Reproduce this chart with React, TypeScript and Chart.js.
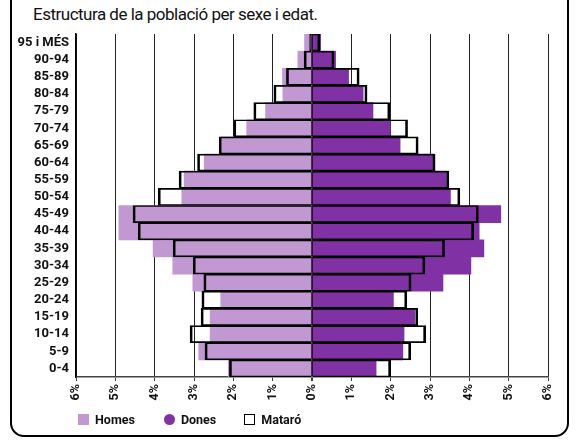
import React, { useEffect, useRef } from "react";
import { Chart, registerables } from "chart.js";

Chart.register(...registerables);

const ageGroups = [
  "0-4", "5-9", "10-14", "15-19", "20-24", "25-29", "30-34", "35-39", "40-44", "45-49",
  "50-54", "55-59", "60-64", "65-69", "70-74", "75-79", "80-84", "85-89", "90-94", "95 i MÉS",
];
// percentages (men shown on the left)
const homes = [2.13, 2.88, 2.59, 2.59, 2.32, 3.03, 3.54, 4.04, 4.91, 4.91, 3.31, 3.25, 2.74, 2.3, 1.66, 1.18, 0.74, 0.75, 0.36, 0.19];
const dones = [1.63, 2.31, 2.34, 2.61, 2.07, 3.33, 4.04, 4.37, 4.25, 4.8, 3.52, 3.42, 3.09, 2.24, 1.99, 1.55, 1.3, 0.93, 0.6, 0.22];
const mataroHomes = [2.1, 2.72, 3.1, 2.82, 2.8, 2.75, 3.02, 3.53, 4.42, 4.55, 3.91, 3.38, 2.91, 2.36, 1.99, 1.48, 0.97, 0.65, 0.2, 0.06];
const mataroDones = [2.0, 2.51, 2.89, 2.69, 2.41, 2.52, 2.87, 3.37, 4.11, 4.23, 3.76, 3.48, 3.13, 2.7, 2.43, 1.98, 1.4, 1.2, 0.56, 0.2];
const axisMin = -6;
const axisMax = 6;

const LIGHT = "#c298d3";
const DARK = "#8032a4";
const FONT = "Roboto, 'Liberation Sans', sans-serif";

export default function App() {
  const ref = useRef<HTMLCanvasElement | null>(null);

  useEffect(() => {
    if (!ref.current) return;
    const outline = {
      backgroundColor: "rgba(0,0,0,0)",
      borderColor: "#000",
      borderSkipped: false as const,
      grouped: false,
      order: 0,
    };
    const chart = new Chart(ref.current, {
      type: "bar",
      data: {
        labels: ageGroups,
        datasets: [
          { label: "Mataró H", data: mataroHomes.map((v) => -v), ...outline, borderWidth: { top: 1, bottom: 1, left: 2, right: 0 } },
          { label: "Mataró D", data: mataroDones, ...outline, borderWidth: { top: 1, bottom: 1, left: 0, right: 2 } },
          { label: "Homes", data: homes.map((v) => -v), backgroundColor: LIGHT, borderWidth: 0, grouped: false, order: 1 },
          { label: "Dones", data: dones, backgroundColor: DARK, borderWidth: 0, grouped: false, order: 1 },
        ],
      },
      options: {
        indexAxis: "y",
        animation: false,
        responsive: false,
        maintainAspectRatio: false,
        datasets: { bar: { barPercentage: 1, categoryPercentage: 1 } },
        layout: { padding: { top: 34, right: 27, left: 0, bottom: 0 } },
        plugins: { legend: { display: false }, tooltip: { enabled: false }, title: { display: false } },
        scales: {
          x: {
            type: "linear",
            min: axisMin,
            max: axisMax,
            afterFit: (s: any) => { s.height = 64; },
            ticks: {
              stepSize: 1,
              minRotation: 90,
              maxRotation: 90,
              padding: 3,
              color: "#111",
              font: { family: FONT, size: 12.5, weight: "bold" },
              callback: (v: any) => Math.abs(Number(v)) + "%",
            },
            grid: {
              color: (c: any) => (c.tick && c.tick.value === 0 ? "#000" : "#222"),
              lineWidth: (c: any) => (c.tick && c.tick.value === 0 ? 2 : 1),
              drawTicks: true,
              tickLength: 4,
              tickColor: "#444",
            },
            border: { display: true, color: "#444", width: 1.5 },
          },
          y: {
            type: "category",
            reverse: true,
            offset: true,
            afterFit: (s: any) => { s.width = 76; },
            ticks: {
              padding: 7,
              color: "#111",
              font: { family: FONT, size: 13, weight: "bold" },
              autoSkip: false,
            },
            grid: { display: false, drawTicks: false },
            border: { display: true, color: "#000", width: 1.5 },
          },
        },
      },
    });
    return () => chart.destroy();
  }, []);

  const legendText: React.CSSProperties = { font: `bold 12.5px ${FONT}`, color: "#111", marginLeft: 6 };
  return (
    <div style={{ position: "absolute", left: 0, top: 0, width: 575, height: 441, overflow: "hidden", background: "#fff" }}>
      <div
        style={{
          position: "absolute", left: 10, top: -14, width: 559, height: 451, boxSizing: "border-box",
          border: "2.5px solid #000", borderRadius: 14,
        }}
      />
      <div style={{ position: "absolute", left: 33, top: 4, font: `17px ${FONT}`, color: "#111", letterSpacing: -0.5, whiteSpace: "nowrap" }}>
        Estructura de la població per sexe i edat.
      </div>
      <canvas ref={ref} width={575} height={441} style={{ position: "absolute", left: 0, top: 0, width: 575, height: 441 }} />
      <div style={{ position: "absolute", left: 78, top: 411, display: "flex", alignItems: "center", height: 16 }}>
        <span style={{ display: "inline-block", width: 11, height: 11, background: LIGHT }} />
        <span style={legendText}>Homes</span>
        <span style={{ display: "inline-block", width: 11, height: 11, borderRadius: "50%", background: DARK, marginLeft: 29 }} />
        <span style={legendText}>Dones</span>
        <span style={{ display: "inline-block", width: 9, height: 9, border: "1.5px solid #000", marginLeft: 28 }} />
        <span style={legendText}>Mataró</span>
      </div>
    </div>
  );
}
